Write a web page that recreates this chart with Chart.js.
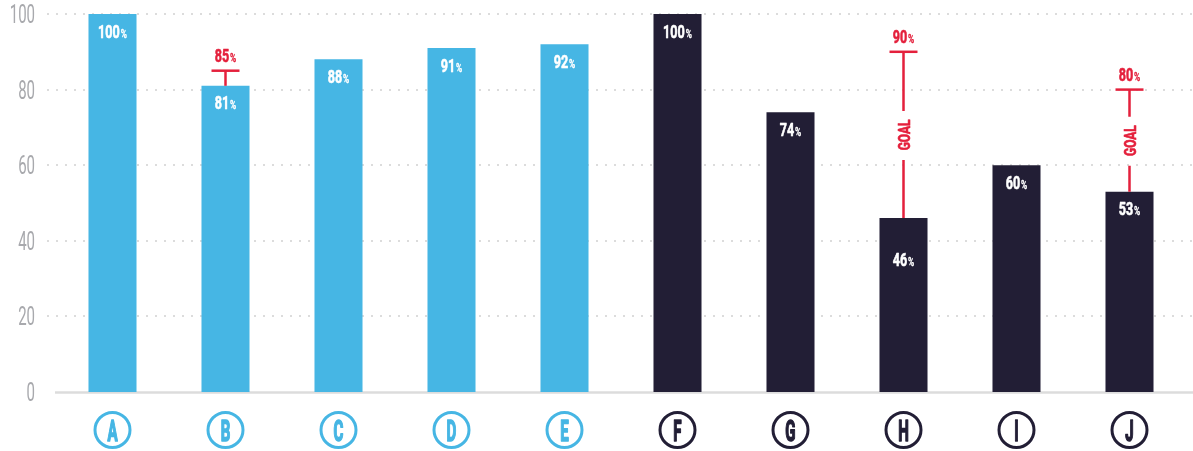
<!DOCTYPE html>
<html>
<head>
<meta charset="utf-8">
<script src="https://cdn.jsdelivr.net/npm/chart.js@4/dist/chart.umd.min.js"></script>
<style>
html,body{margin:0;padding:0;background:#fff;}
#wrap{position:relative;width:1193px;height:451px;}
</style>
</head>
<body>
<div id="wrap"><canvas id="c"></canvas></div>
<script>
const categories = ['A','B','C','D','E','F','G','H','I','J'];
const values = [100, 81, 88, 91, 92, 100, 74, 46, 60, 53];
const goals = [null, 85, null, null, null, null, null, 90, null, 80];
const yTicks = [0, 20, 40, 60, 80, 100];

const BLUE = '#46b6e4';
const NAVY = '#221e35';
const RED = '#e4203c';
const GRID = '#dcdcdc';
const TICK = '#a8a9ad';
const FONT = 'Roboto, sans-serif';

const colorFor = i => (i < 5 ? BLUE : NAVY);

// draw horizontally condensed text; align: 'left' | 'center' | 'right'
function condText(ctx, text, x, y, font, sx, color, align, strokeW) {
  ctx.save();
  ctx.font = font;
  ctx.fillStyle = color;
  ctx.textBaseline = 'alphabetic';
  ctx.textAlign = 'left';
  const w = ctx.measureText(text).width * sx;
  let x0 = x;
  if (align === 'center') x0 = x - w / 2;
  else if (align === 'right') x0 = x - w;
  ctx.translate(x0, y);
  ctx.scale(sx, 1);
  ctx.fillText(text, 0, 0);
  if (strokeW) {
    ctx.strokeStyle = color;
    ctx.lineWidth = strokeW;
    ctx.lineJoin = 'round';
    ctx.strokeText(text, 0, 0);
  }
  ctx.restore();
  return w;
}
function measureCond(ctx, text, font, sx) {
  ctx.save(); ctx.font = font; const w = ctx.measureText(text).width * sx; ctx.restore(); return w;
}

function drawPct(ctx, text, cx, baseline, color) {
  const big = 'bold 18px ' + FONT, small = 'bold 12px ' + FONT, sx = 0.7;
  const w1 = measureCond(ctx, text, big, sx);
  const w2 = measureCond(ctx, '%', small, sx);
  const x0 = cx - (w1 + w2 + 1) / 2;
  condText(ctx, text, x0, baseline, big, sx, color, 'left', 0.6);
  condText(ctx, '%', x0 + w1 + 1, baseline, small, sx, color, 'left', 0.3);
}

const decor = {
  id: 'decor',
  beforeDatasetsDraw(chart) {
    const ctx = chart.ctx, y = chart.scales.y;
    ctx.save();
    ctx.strokeStyle = GRID;
    ctx.lineWidth = 2;
    ctx.setLineDash([2, 7]);
    yTicks.forEach(v => {
      if (v === 0) return;
      const py = Math.round(y.getPixelForValue(v));
      ctx.beginPath();
      ctx.moveTo(47, py);
      ctx.lineTo(chart.width, py);
      ctx.stroke();
    });
    ctx.setLineDash([]);
    ctx.lineWidth = 2.5;
    const by = y.getPixelForValue(0) + 0.5;
    ctx.beginPath();
    ctx.moveTo(55, by);
    ctx.lineTo(chart.width, by);
    ctx.stroke();
    ctx.restore();
    yTicks.forEach(v => {
      const py = y.getPixelForValue(v);
      condText(ctx, String(v), 35, py + 9, '400 25px ' + FONT, 0.6, TICK, 'right');
    });
  },
  afterDatasetsDraw(chart, args, opts) {
    const ctx = chart.ctx, y = chart.scales.y;
    const meta = chart.getDatasetMeta(0);
    const labelOffsets = opts.labelOffsets || {};
    meta.data.forEach((bar, i) => {
      const cx = bar.x;
      const top = bar.y;
      const off = labelOffsets[i] !== undefined ? labelOffsets[i] : 23.5;
      drawPct(ctx, String(values[i]), cx, top + off, '#ffffff');

      const g = goals[i];
      if (g !== null && g !== undefined) {
        const gy = y.getPixelForValue(g);
        ctx.save();
        ctx.strokeStyle = RED;
        ctx.lineWidth = 2.5;
        ctx.beginPath();
        ctx.moveTo(cx - 14, gy);
        ctx.lineTo(cx + 14, gy);
        ctx.stroke();
        const gap = top - gy;
        if (gap > 60) {
          const mid = (gy + top) / 2;
          ctx.beginPath();
          ctx.moveTo(cx, gy);
          ctx.lineTo(cx, mid - 24);
          ctx.moveTo(cx, mid + 25);
          ctx.lineTo(cx, top);
          ctx.stroke();
          ctx.translate(cx, mid);
          ctx.rotate(-Math.PI / 2);
          condText(ctx, 'GOAL', 0, 6, 'bold 17px ' + FONT, 0.7, RED, 'center', 0.6);
        } else {
          ctx.beginPath();
          ctx.moveTo(cx, gy);
          ctx.lineTo(cx, top);
          ctx.stroke();
        }
        ctx.restore();
        drawPct(ctx, String(g), cx, gy - 8.5, RED);
      }

      const cy = 430;
      ctx.save();
      ctx.strokeStyle = colorFor(i);
      ctx.lineWidth = 3;
      ctx.beginPath();
      ctx.arc(cx, cy, 17.5, 0, Math.PI * 2);
      ctx.stroke();
      ctx.restore();
      condText(ctx, categories[i], cx, cy + 10.5, 'bold 29px ' + FONT, 0.52, colorFor(i), 'center', 1.6);
    });
  }
};

new Chart(document.getElementById('c'), {
  type: 'bar',
  data: {
    labels: categories,
    datasets: [{
      data: values,
      backgroundColor: values.map((v, i) => colorFor(i)),
      borderWidth: 0,
      barPercentage: 0.425,
      categoryPercentage: 1.0
    }]
  },
  options: {
    responsive: true,
    maintainAspectRatio: false,
    animation: false,
    devicePixelRatio: 1,
    layout: { padding: { top: 14, right: 7, bottom: 59, left: 56 } },
    plugins: {
      legend: { display: false },
      tooltip: { enabled: false },
      decor: { labelOffsets: { 7: 48 } }
    },
    scales: {
      x: { display: false },
      y: { display: false, min: 0, max: 100 }
    }
  },
  plugins: [decor]
});
</script>
</body>
</html>
